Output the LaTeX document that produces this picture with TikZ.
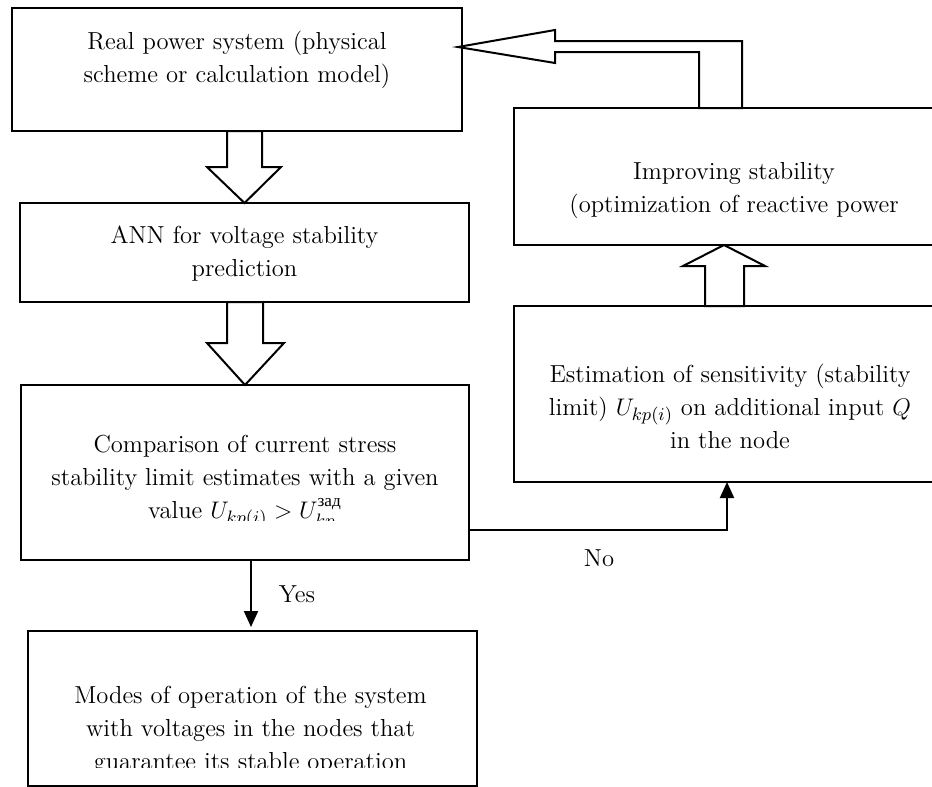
\documentclass[tikz,border=0pt]{standalone}
\usepackage{amsmath}
\usepackage{fontspec}
\newfontfamily\cyrfont{Liberation Serif}
\usetikzlibrary{arrows.meta,calc}

\tikzset{
  box/.style={draw, line width=1pt, inner sep=0pt, outer sep=0pt},
  txt/.style={align=center, inner sep=0pt, font=\fontsize{12.3}{16.5}\selectfont},
  hollow/.style={draw, line width=1pt, fill=white, line join=miter},
  flow/.style={line width=1pt, -{Triangle[length=8pt,width=7pt]}}
}

\begin{document}
\begin{tikzpicture}[x=0.5pt, y=-0.5pt]
\useasboundingbox (0,0) rectangle (932,787);

% left column
\node[box, minimum width=225pt, minimum height=61.5pt] (sys) at (237,69.5) {};
\node[box, minimum width=224.5pt, minimum height=49.5pt] (ann) at (244.5,252.5) {};
\node[box, minimum width=224pt, minimum height=87.5pt] (cmp) at (245,472.5) {};
\node[box, minimum width=224.5pt, minimum height=77.5pt] (modes) at (252.5,708.5) {};
% right column
\node[box, minimum width=220pt, minimum height=68.5pt] (imp) at (734,176.5) {};
\node[box, minimum width=220pt, minimum height=88pt] (est) at (734,394) {};

\node[txt] (sysT) at ($(sys.center)+(0,-10)$) {Real power system (physical\\scheme or calculation model)};
\node[txt] (annT) at ($(ann.center)+(0,1)$) {ANN for voltage stability\\prediction};
\begin{scope}
\clip (0,0) rectangle (932,520);
\node[txt] (cmpT) at ($(cmp.center)+(0,10)$) {Comparison of current stress\\stability limit estimates with a given\\value $U_{kp(i)} > U_{kp}^{\text{\cyrfont зад}}$};
\end{scope}
\begin{scope}
\clip (0,0) rectangle (932,767);
\node[txt] (modesT) at ($(modes.center)+(-2,22)$) {Modes of operation of the system\\with voltages in the nodes that\\guarantee its stable operation};
\end{scope}
\node[txt] (impT) at ($(imp.center)+(0,14)$) {Improving stability\\(optimization of reactive power};
\node[txt] (estT) at ($(est.center)+(-4,12)$) {Estimation of sensitivity (stability\\limit) $U_{kp(i)}$ on additional input $Q$\\in the node};

% wide arrows
\draw[hollow] ($(sys.south -| ann.north)+(-17.5,0)$) -- ++(0,36) -- ++(-20,0) -- (ann.north)
  -- ++(36.5,-36) -- ++(-19,0) -- ++(0,-36) -- cycle;
\draw[hollow] ($(ann.south -| cmp.north)+(-18,0)$) -- ++(0,41) -- ++(-20,0) -- (cmp.north)
  -- ++(39,-42) -- ++(-21,0) -- ++(0,-41) -- cycle;
\draw[hollow] ($(est.north)+(-29,0)$) -- ++(0,-40) -- ++(-22,0) -- ($(imp.south)+(-10,0)$)
  -- ++(41,21) -- ++(-21,0) -- ++(0,40) -- cycle;
\draw[hollow] ($(imp.north west)+(185,0)$) -- ++(0,-56) -- ++(-144,0) -- ++(0,11)
  -- ($(sys.north east)+(-4,39)$) -- ++(97,-17) -- ++(0,11) -- ++(187,0) -- ++(0,67) -- cycle;

% decisions
\draw[flow] ($(cmp.south)+(6,0)$) -- ($(modes.north)+(-1.5,-4)$);
\draw[flow] ($(cmp.east)+(0,57.5)$) -| ($(est.south)+(-7,0)$);
\node[txt] (yes) at (297,594) {Yes};
\node[txt] (no) at (599,558) {No};
\end{tikzpicture}
\end{document}
